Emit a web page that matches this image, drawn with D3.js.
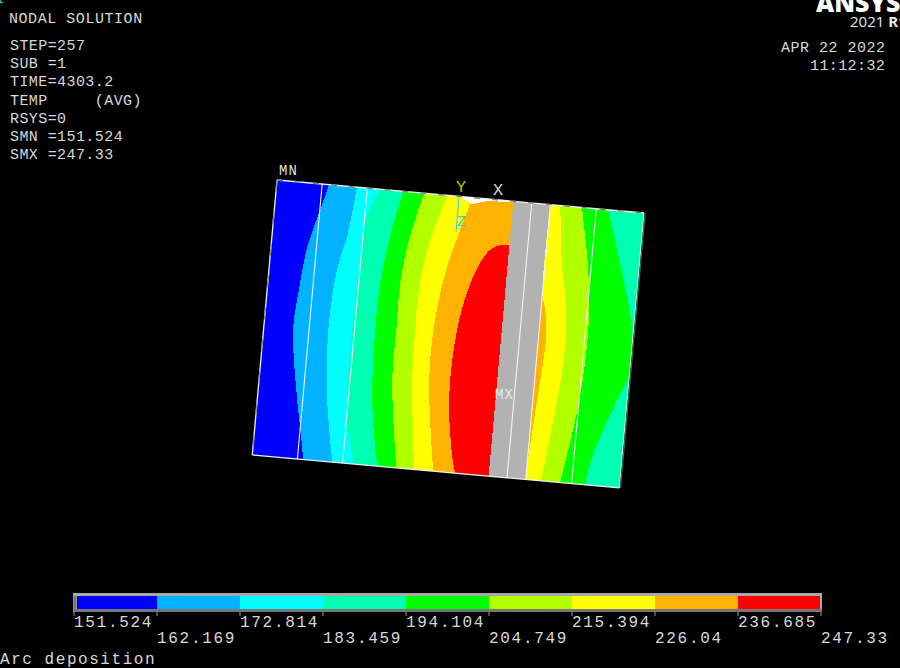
<!DOCTYPE html>
<html><head><meta charset="utf-8">
<script src="https://cdn.jsdelivr.net/npm/d3@7"></script>
<style>html,body{margin:0;padding:0;background:#000;overflow:hidden}svg{display:block}</style>
</head><body><svg id="c" width="900" height="668"></svg>
<script>
// Contour band colours (ANSYS 9-band scale) and values
const legendColors = ["#0000ff","#00b2ff","#00ffff","#00ffb2","#00ff00","#b2ff00","#ffff00","#ffb200","#ff0000"];
const legendLabels = ["151.524","162.169","172.814","183.459","194.104","204.749","215.394","226.04","236.685","247.33"];
const overRangeColor = "#b2b2b2";
const headerLines = ["STEP=257","SUB =1","TIME=4303.2","TEMP     (AVG)","RSYS=0","SMN =151.524","SMX =247.33"];

// Contour boundaries in plate coordinates [u %, v %], left to right
const b1BlueLight   = [[14.2,0],[12.4,9.4],[9.8,23.2],[8.5,40.1],[8.0,53.6],[10.8,78.7],[12.4,89.4],[13.9,100]];
const b2LightCyan   = [[21.8,0],[20.3,18.3],[18.4,30.5],[17.5,52.5],[18.8,76.7],[21.8,100]];
const b3CyanTeal    = [[28.1,0],[25.4,9.0],[24.5,27.2],[24.0,51.7],[24.9,85.4],[27.8,100]];
const b4TealGreen   = [[34.4,0],[31.9,16.9],[30.4,33.8],[30.2,50.9],[31.0,75.2],[33.0,93.1],[34.1,100]];
const b5GreenLime   = [[40.1,0],[37.3,16.2],[35.8,33.2],[35.9,50.2],[36.0,68.4],[39.2,100]];
const b6LimeYellow  = [[46.4,0],[42.3,20.4],[40.9,39.8],[41.0,49.6],[41.4,67.8],[44.1,100]];
const b7YellowOrange= [[53.3,0],[50.7,12.1],[48.1,25.9],[46.1,45.4],[46.0,67.2],[49.3,100]];
const redCore       = [[64.3,15.9],[61.9,16.2],[59.3,18.3],[56.9,23.4],[54.3,33.5],[52.3,48.3],[51.8,72.7],[54.1,94.2],[55.3,100]];
const b8GrayStart   = [[64.4,0],[64.4,100]];
const b9GrayEnd     = [[74.5,0],[74.5,100]];
const b10OrangeYellow=[[74.5,0],[74.5,32],[75.6,38],[76.5,46],[76.4,56],[75.9,66],[75.4,76],[74.6,94],[74.5,100]];
const b11YellowLime = [[77.2,0],[79.1,21.4],[80.8,33],[81.8,44.7],[81.9,56],[81.1,70.3],[79.8,87.5],[78.7,100]];
const b12LimeGreen  = [[83.1,0],[86.1,20.6],[87.5,36],[87.8,50],[87.4,64],[86.1,80.6],[83.9,100]];
const b13GreenTeal  = [[90.2,0],[94.7,18.8],[99.6,42.6],[100,58.2],[97.3,68.3],[94.2,79.6],[91.5,91.9],[90.7,100]];
const meshLines     = [12.3,24.6,69.4,74.5,87];
const whiteSliver   = [[49.6,0],[53.3,2.4],[57,0.9],[60,0.6],[64,0.4],[64,0]];

const c = legendColors;
const bands = [
  [b1BlueLight,c[1]],[b2LightCyan,c[2]],[b3CyanTeal,c[3]],[b4TealGreen,c[4]],
  [b5GreenLime,c[5]],[b6LimeYellow,c[6]],[b7YellowOrange,c[7]]
];
const bandsAfter = [
  [b8GrayStart,overRangeColor],[b9GrayEnd,c[7]],[b10OrangeYellow,c[6]],
  [b11YellowLime,c[5]],[b12LimeGreen,c[4]],[b13GreenTeal,c[3]]
];

const svg = d3.select("#c");
svg.append("rect").attr("width",900).attr("height",668).attr("fill","#000");

// Plate
const u = d3.scaleLinear().domain([0,100]).range([0,368.5]);
const v = d3.scaleLinear().domain([0,100]).range([0,276]);
const defs = svg.append("defs");
defs.append("clipPath").attr("id","plate").append("rect")
  .attr("x",u(0)).attr("y",v(0)).attr("width",u(100)-u(0)).attr("height",v(100)-v(0));
const g = svg.append("g").attr("transform","translate(277,180) rotate(5.14)");
const paint = g.append("g").attr("clip-path","url(#plate)").attr("shape-rendering","crispEdges");
const curve = d3.curveCatmullRom.alpha(0.5);
const toRight = d3.area().curve(curve).y(d=>v(d[1])).x0(d=>u(d[0])).x1(u(100));
const toGray  = d3.area().curve(curve).y(d=>v(d[1])).x0(d=>u(d[0])).x1(u(64.4));

paint.append("rect").attr("x",u(0)).attr("y",v(0)).attr("width",u(100)).attr("height",v(100)).attr("fill",c[0]);
paint.selectAll("path.a").data(bands).join("path").attr("class","a").attr("d",d=>toRight(d[0])).attr("fill",d=>d[1]);
paint.append("path").attr("d",toGray(redCore)).attr("fill",c[8]);
paint.selectAll("path.b").data(bandsAfter).join("path").attr("class","b").attr("d",d=>toRight(d[0])).attr("fill",d=>d[1]);
paint.append("path").attr("d",d3.line().x(d=>u(d[0])).y(d=>v(d[1]))(whiteSliver)+"Z").attr("fill","#fff");

// Mesh lines
g.selectAll("line.m").data(meshLines).join("line").attr("class","m")
  .attr("x1",d=>u(d)).attr("x2",d=>u(d)).attr("y1",v(0)).attr("y2",v(100))
  .attr("stroke","#f2f2f2").attr("stroke-width",1.1);

// Outline
const edge=(x1,y1,x2,y2,col,w,dash)=>g.append("line").attr("x1",u(x1)).attr("y1",v(y1)).attr("x2",u(x2)).attr("y2",v(y2))
  .attr("stroke",col).attr("stroke-width",w).attr("stroke-dasharray",dash||null);
edge(0,0,100,0,"#f0f0f0",1.3);
edge(0,0,100,0,"#777",1.3,"6 12");
edge(0,0,0,100,"#f0f0f0",1.3);
edge(0,0,0,100,"#888",1.3,"12 20");
edge(0,100,100,100,"#f0f0f0",1.3);
edge(100,0,100,100,"#e8e8e8",1);
g.append("line").attr("x1",u(100)+1.2).attr("x2",u(100)+1.2).attr("y1",v(0)).attr("y2",v(100)).attr("stroke","#2d6f5b").attr("stroke-width",1.2);

const MONO = "'Liberation Mono',monospace";
const text=(s,x,y,size,ls,col,anchor)=>svg.append("text").text(s).attr("x",x).attr("y",y)
  .attr("font-family",MONO).attr("font-size",size).attr("letter-spacing",ls)
  .attr("fill",col).attr("text-anchor",anchor||"start").style("white-space","pre");

// Triad
svg.append("line").attr("x1",459).attr("y1",197).attr("x2",456).attr("y2",232).attr("stroke","#39c6e8").attr("stroke-width",1);
text("Y",456,192,17,0,"#9acd00");
text("X",493,195,17,0,"#d8d8d8");
text("Z",457,226,15,0,"#39c6e8");
text("MN",279,175,14,1,"#e0e0e0");
text("MX",495,399,14,1,"#e8e8e8");
text("1",-4,3,13,0,"#18d8c0");

// Header
text("NODAL SOLUTION",9,23,15,0.55,"#d8d8d8");
const headerY = d3.scaleLinear().domain([0,6]).range([50,159]);
svg.selectAll("text.h").data(headerLines).join("text").attr("class","h")
  .text(d=>d).attr("x",10).attr("y",(d,i)=>headerY(i))
  .attr("font-family",MONO).attr("font-size",15).attr("letter-spacing",0.42)
  .attr("fill","#d8d8d8").style("white-space","pre");
text("APR 22 2022",781,52,15,0.5,"#d8d8d8");
text("11:12:32",810,70,15,0.4,"#d8d8d8");

// Logo
svg.append("text").text("ANSYS").attr("x",816).attr("y",12).attr("font-family","'Open Sans',sans-serif")
  .attr("font-weight",800).attr("font-size",25).attr("fill","#fff");
const logo=svg.append("text").attr("x",850).attr("y",27).attr("font-family","'Open Sans',sans-serif").attr("font-size",15).attr("fill","#e8e8e8");
logo.append("tspan").text("2021 ");
logo.append("tspan").text("R1").attr("font-weight",700);

// Legend
const lx = d3.scaleLinear().domain([0,9]).range([74,821]);
svg.append("rect").attr("x",73).attr("y",593).attr("width",749).attr("height",19).attr("fill","#a8a8a8");
svg.append("path").attr("d","M75 596V610.5H822").attr("fill","none").attr("stroke","#777").attr("stroke-width",3);
svg.selectAll("rect.l").data(legendColors).join("rect").attr("class","l")
  .attr("x",(d,i)=>i===0?77:lx(i)).attr("y",596)
  .attr("width",(d,i)=>(i===8?820:lx(i+1))-(i===0?77:lx(i))).attr("height",13)
  .attr("fill",d=>d).attr("shape-rendering","crispEdges");
svg.selectAll("line.t").data(legendLabels).join("line").attr("class","t")
  .attr("x1",(d,i)=>lx(i)).attr("x2",(d,i)=>lx(i)).attr("y1",612).attr("y2",616)
  .attr("stroke","#999").attr("stroke-width",1);
svg.selectAll("text.v").data(legendLabels).join("text").attr("class","v")
  .text(d=>d).attr("x",(d,i)=>lx(i)).attr("y",(d,i)=>i%2?643:627)
  .attr("font-family",MONO).attr("font-size",16).attr("letter-spacing",1.7).attr("fill","#d8d8d8");
text("Arc deposition",0,664,16,1.55,"#d8d8d8");
</script></body></html>
